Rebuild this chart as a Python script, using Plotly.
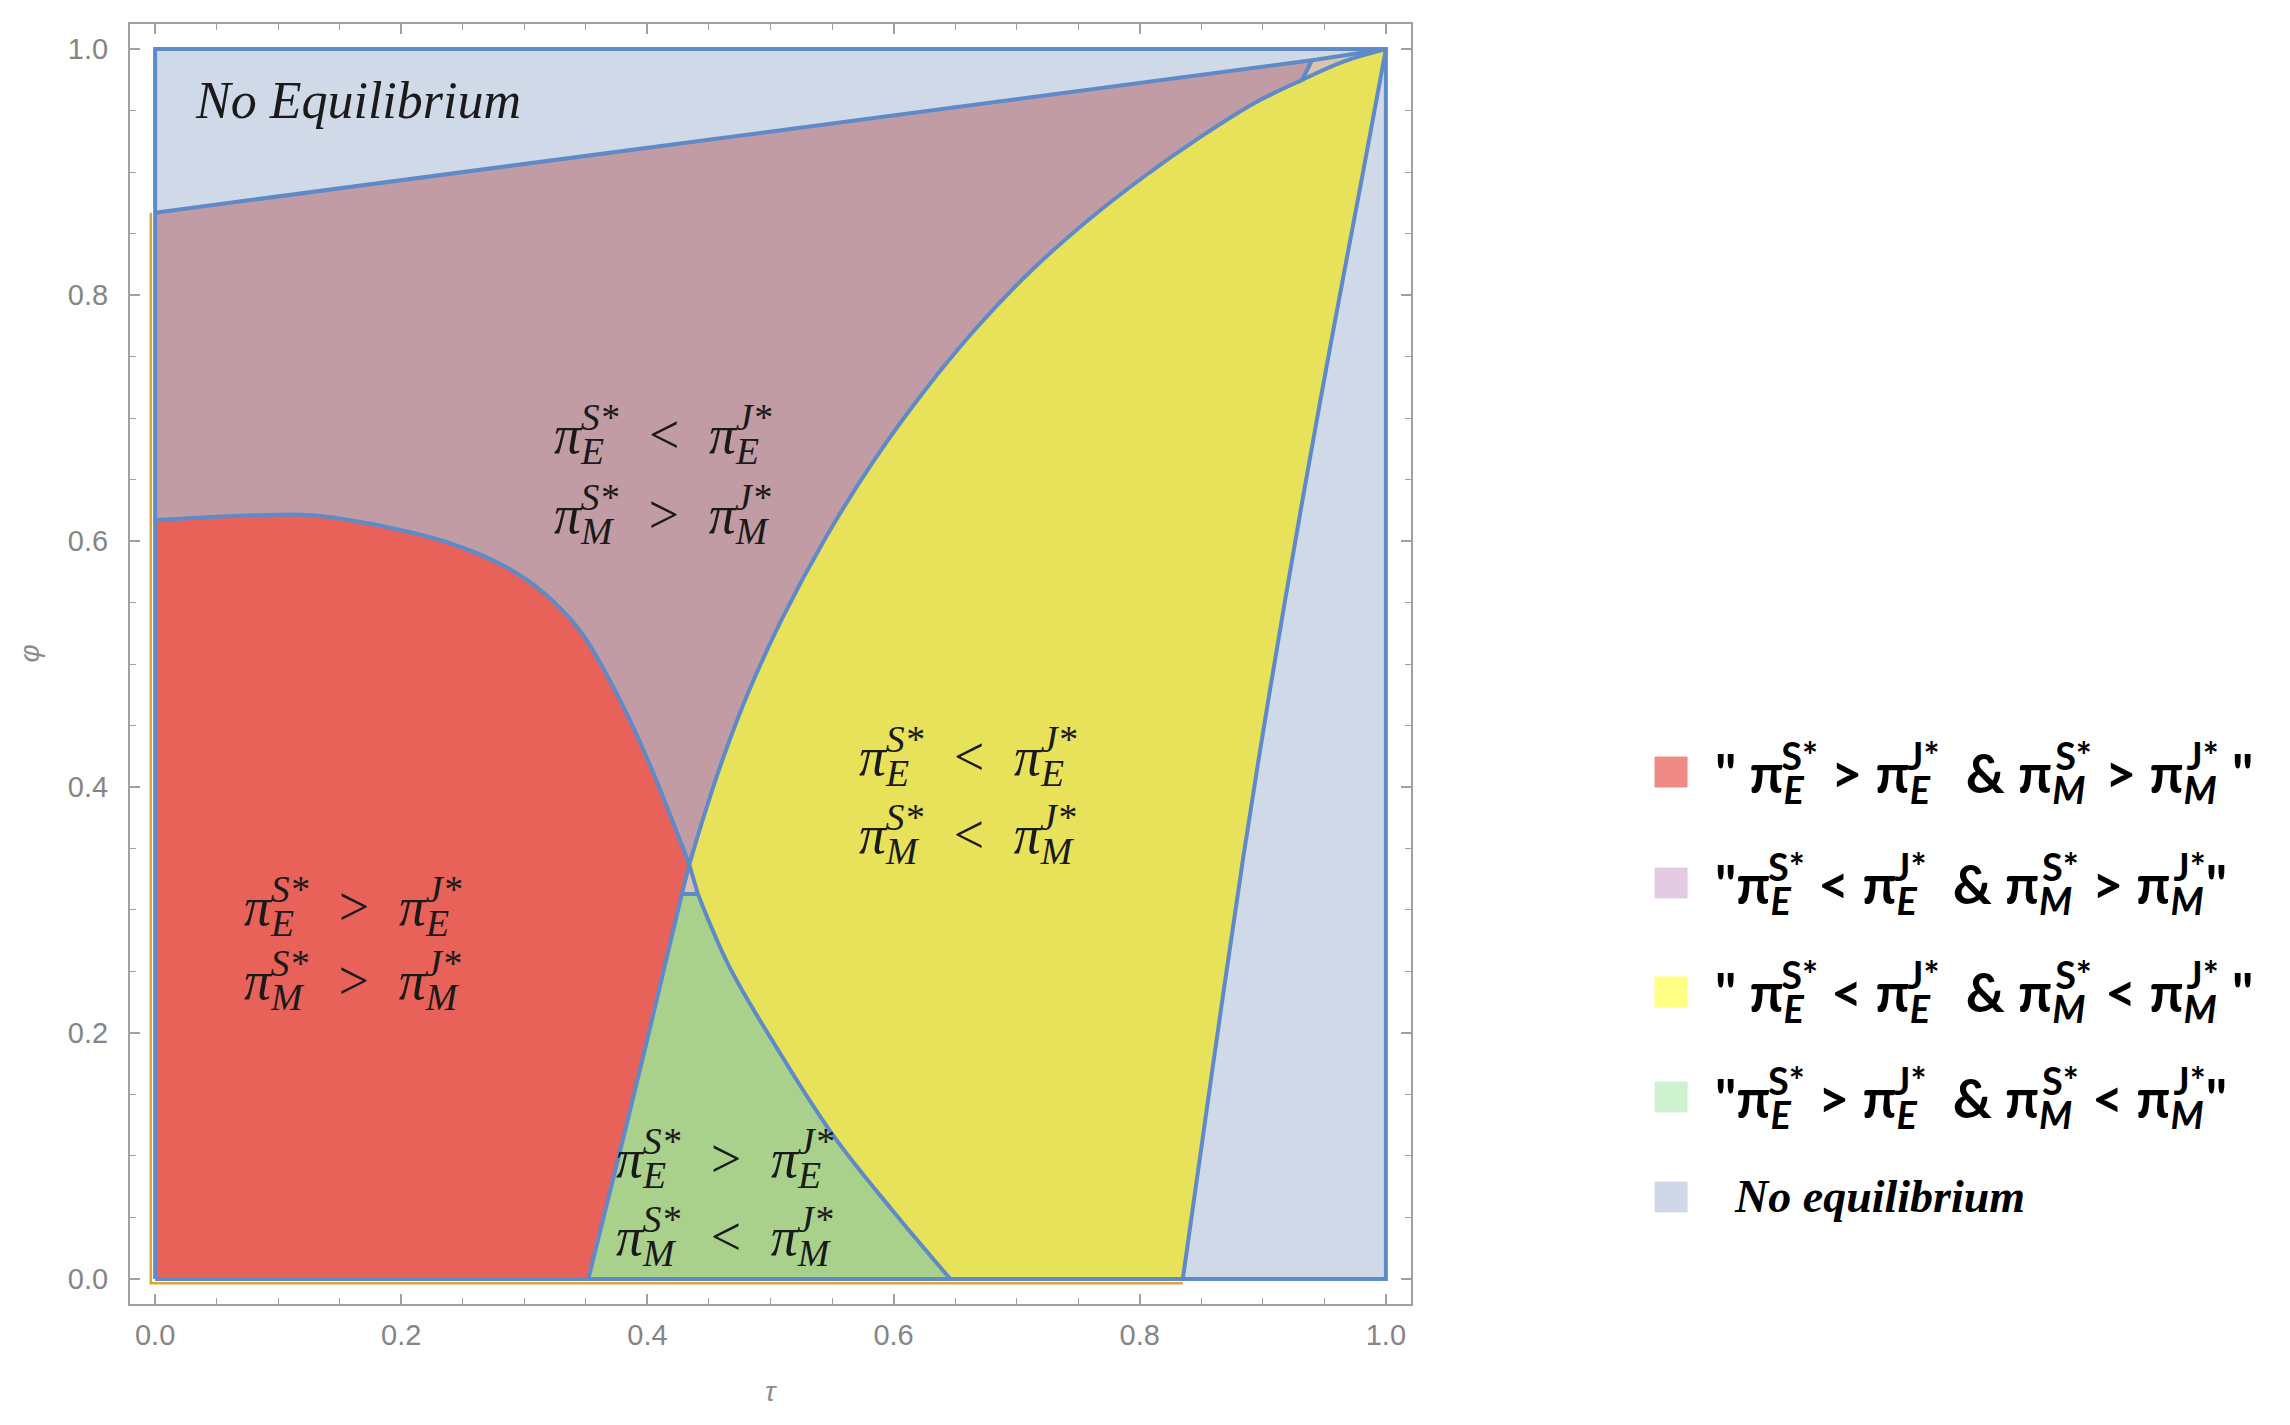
import plotly.graph_objects as go

# ---- boundary curves (tau, phi) ----
DOMAIN_TAU = [0, 1, 1, 0, 0]
DOMAIN_PHI = [0, 0, 1, 1, 0]

TOP_LINE_TAU = [0.0, 0.94, 1.0]
TOP_LINE_PHI = [0.867, 0.991, 1.0]

RED_TOP_TAU = [0.0, 0.081, 0.128, 0.175, 0.237, 0.283, 0.315, 0.346, 0.377, 0.402, 0.434]
RED_TOP_PHI = [0.617, 0.621, 0.621, 0.614, 0.599, 0.580, 0.5585, 0.526, 0.472, 0.418, 0.337]

RED_GREEN_TAU = [0.428, 0.404, 0.381, 0.352]
RED_GREEN_PHI = [0.313, 0.212, 0.117, 0.0]

GREEN_YELLOW_TAU = [0.441, 0.466, 0.505, 0.550, 0.598, 0.646]
GREEN_YELLOW_PHI = [0.313, 0.255, 0.188, 0.118, 0.057, 0.0]

PURPLE_YELLOW_TAU = [0.434, 0.447, 0.462, 0.482, 0.509, 0.545, 0.583, 0.625, 0.668, 0.712,
                     0.757, 0.803, 0.850, 0.893, 0.932, 0.966, 1.0]
PURPLE_YELLOW_PHI = [0.337, 0.380, 0.425, 0.477, 0.536, 0.603, 0.664, 0.722, 0.774, 0.820,
                     0.860, 0.896, 0.929, 0.956, 0.975, 0.990, 1.0]
NOTCH_AT = 14  # index of the point where the notch meets the curve

YELLOW_BLUE_TAU = [0.835, 0.859, 0.884, 0.906, 0.932, 0.9555, 0.981, 1.0]
YELLOW_BLUE_PHI = [0.0, 0.17, 0.342, 0.48, 0.632, 0.762, 0.8975, 1.0]

NOTCH_TAU = [0.94, 0.932]
NOTCH_PHI = [0.991, 0.975]

CENTER_TAN_TAU = [0.434, 0.428, 0.441, 0.434]
CENTER_TAN_PHI = [0.337, 0.313, 0.313, 0.337]

ORANGE_EDGE_TAU = [-0.0035, -0.0035, 0.835]
ORANGE_EDGE_PHI = [0.867, -0.0035, -0.0035]

# region labels: one entry per text line
LABEL_TAU = [0.412, 0.412, 0.66, 0.66, 0.16, 0.16, 0.463, 0.463]
LABEL_PHI = [0.690, 0.625, 0.428, 0.365, 0.306, 0.246, 0.101, 0.038]
LABEL_SUB = ["E", "M", "E", "M", "E", "M", "E", "M"]
LABEL_SIGN = ["<", ">", "<", "<", ">", ">", ">", "<"]

LEGEND_SIGNS = [(">", ">"), ("<", ">"), ("<", "<"), (">", "<")]
LEGEND_PAD = [True, False, True, False]
LEGEND_COLORS = ["#F08A86", "#E3CCE3", "#FFFF84", "#CDF2CD", "#CFD8E8"]

C_RED = "#E8625A"
C_PURPLE = "#C29CA4"
C_YELLOW = "#E8E15A"
C_GREEN = "#A9D18C"
C_BLUE = "#CFD9E8"
C_TAN = "#D9C4AE"
C_EDGE = "#5F8AC8"


def rev(a):
    return list(a)[::-1]


def region(xs, ys, color):
    return go.Scatter(x=xs, y=ys, mode="lines", fill="toself", fillcolor=color,
                      line=dict(width=0), hoverinfo="skip", showlegend=False)


def edge(xs, ys, smooth=True):
    line = dict(color=C_EDGE, width=4)
    if smooth:
        line.update(shape="spline", smoothing=1.0)
    return go.Scatter(x=xs, y=ys, mode="lines", line=line,
                      hoverinfo="skip", showlegend=False)


fig = go.Figure()

# No equilibrium (top)
fig.add_trace(region([0, 0, 1] + rev(TOP_LINE_TAU)[1:],
                     [TOP_LINE_PHI[0], 1, 1] + rev(TOP_LINE_PHI)[1:], C_BLUE))
# No equilibrium (right)
fig.add_trace(region(YELLOW_BLUE_TAU + [1, YELLOW_BLUE_TAU[0]],
                     YELLOW_BLUE_PHI + [0, 0], C_BLUE))
# red
fig.add_trace(region([0] + RED_TOP_TAU + RED_GREEN_TAU + [0],
                     [0] + RED_TOP_PHI + RED_GREEN_PHI + [0], C_RED))
# purple
fig.add_trace(region(TOP_LINE_TAU[:2] + rev(PURPLE_YELLOW_TAU[:NOTCH_AT + 1]) + rev(RED_TOP_TAU),
                     TOP_LINE_PHI[:2] + rev(PURPLE_YELLOW_PHI[:NOTCH_AT + 1]) + rev(RED_TOP_PHI),
                     C_PURPLE))
# yellow
fig.add_trace(region(PURPLE_YELLOW_TAU + rev(YELLOW_BLUE_TAU) + rev(GREEN_YELLOW_TAU),
                     PURPLE_YELLOW_PHI + rev(YELLOW_BLUE_PHI) + rev(GREEN_YELLOW_PHI),
                     C_YELLOW))
# green
fig.add_trace(region(rev(RED_GREEN_TAU) + GREEN_YELLOW_TAU,
                     rev(RED_GREEN_PHI) + GREEN_YELLOW_PHI, C_GREEN))
# small tan pieces
fig.add_trace(region(CENTER_TAN_TAU, CENTER_TAN_PHI, C_TAN))
fig.add_trace(region(NOTCH_TAU + PURPLE_YELLOW_TAU[NOTCH_AT + 1:],
                     NOTCH_PHI + PURPLE_YELLOW_PHI[NOTCH_AT + 1:], C_TAN))

# thin orange edge
fig.add_trace(go.Scatter(x=ORANGE_EDGE_TAU, y=ORANGE_EDGE_PHI, mode="lines",
                         line=dict(color="#E0A53A", width=2.5), hoverinfo="skip",
                         showlegend=False))

# boundaries
for xs, ys in [(RED_TOP_TAU, RED_TOP_PHI), (RED_GREEN_TAU, RED_GREEN_PHI),
               (GREEN_YELLOW_TAU, GREEN_YELLOW_PHI), (PURPLE_YELLOW_TAU, PURPLE_YELLOW_PHI),
               (YELLOW_BLUE_TAU, YELLOW_BLUE_PHI)]:
    fig.add_trace(edge(xs, ys))
for xs, ys in [(DOMAIN_TAU, DOMAIN_PHI), (TOP_LINE_TAU, TOP_LINE_PHI),
               (NOTCH_TAU, NOTCH_PHI), (CENTER_TAN_TAU, CENTER_TAN_PHI)]:
    fig.add_trace(edge(xs, ys, smooth=False))


def pi(sub, sup, shift="-0.62em"):
    return (f"π<sub><span style=\"letter-spacing:{shift}\">{sub}</span></sub>"
            f"<sup>{sup}</sup>")


annotations = []
for tx, ph, sub, sign in zip(LABEL_TAU, LABEL_PHI, LABEL_SUB, LABEL_SIGN):
    shift = "-0.62em" if sub == "E" else "-0.85em"
    txt = f"<i>{pi(sub, 'S*', shift)}  {sign}  {pi(sub, 'J*', shift)}</i>"
    annotations.append(dict(x=tx, y=ph, xref="x", yref="y", text=txt, showarrow=False,
                            font=dict(family="Liberation Serif", size=54, color="#1a1a1a")))

annotations.append(dict(x=0.0305, y=0.958, xref="x", yref="y", xanchor="left",
                        text="<i>No Equilibrium</i>", showarrow=False,
                        font=dict(family="Liberation Serif", size=52, color="#1a1a1a")))

# axis titles
annotations.append(dict(x=0.5, y=-0.082, xref="paper", yref="paper", text="<i>τ</i>",
                        showarrow=False, font=dict(family="Liberation Sans", size=28, color="#8c8c8c")))
annotations.append(dict(x=-0.092, y=0.508, xref="paper", yref="paper", text="<i>φ</i>",
                        textangle=-90, showarrow=False,
                        font=dict(family="Liberation Sans", size=28, color="#8c8c8c")))

# legend (manual)
shapes = []
ROW_Y = [0.4156, 0.3289, 0.2438, 0.1617, 0.0836]
for i, yc in enumerate(ROW_Y):
    shapes.append(dict(type="rect", xref="paper", yref="paper",
                       x0=1.1905, x1=1.2155, y0=yc - 0.0117, y1=yc + 0.0117,
                       fillcolor=LEGEND_COLORS[i], line=dict(color=LEGEND_COLORS[i], width=1)))
for i, (s1, s2) in enumerate(LEGEND_SIGNS):
    pad = " " if LEGEND_PAD[i] else ""
    txt = (f"<b>\"{pad}{pi('<i>E</i>', 'S*', '-0.6em')} {s1} {pi('<i>E</i>', 'J*', '-0.6em')}  &amp; "
           f"{pi('<i>M</i>', 'S*', '-0.8em')} {s2} {pi('<i>M</i>', 'J*', '-0.8em')}{pad}\"</b>")
    annotations.append(dict(x=1.236, y=ROW_Y[i], xref="paper", yref="paper", xanchor="left",
                            yanchor="middle", text=txt, showarrow=False,
                            font=dict(family="Lato, Open Sans", size=54, color="black")))
annotations.append(dict(x=1.2508, y=ROW_Y[4], xref="paper", yref="paper", xanchor="left",
                        yanchor="middle", text="<b><i>No equilibrium</i></b>", showarrow=False,
                        font=dict(family="Liberation Serif", size=46, color="black")))

axis_common = dict(range=[-0.0204, 1.0204], showgrid=False, zeroline=False,
                   showline=True, linecolor="#a0a0a0", linewidth=2, mirror="ticks",
                   ticks="inside", ticklen=10, tickwidth=1.5, tickcolor="#a0a0a0",
                   tick0=0, dtick=0.2, tickformat=".1f",
                   tickfont=dict(family="Liberation Sans Narrow, Liberation Sans", size=29, color="#858585"),
                   minor=dict(ticks="inside", ticklen=6, tickwidth=1.2, tickcolor="#a0a0a0",
                              tick0=0, dtick=0.05, showgrid=False))

# the page body adds an 8px margin, so the figure is 16px smaller and shifted back
fig.update_layout(
    width=2274, height=1409,
    margin=dict(l=122, r=871, t=16, b=113),
    paper_bgcolor="white", plot_bgcolor="white",
    xaxis=dict(**axis_common, ticklabelstandoff=4),
    yaxis=dict(**axis_common, ticklabelstandoff=14),
    annotations=annotations, shapes=shapes,
    showlegend=False,
)

fig.write_html("out.html")
